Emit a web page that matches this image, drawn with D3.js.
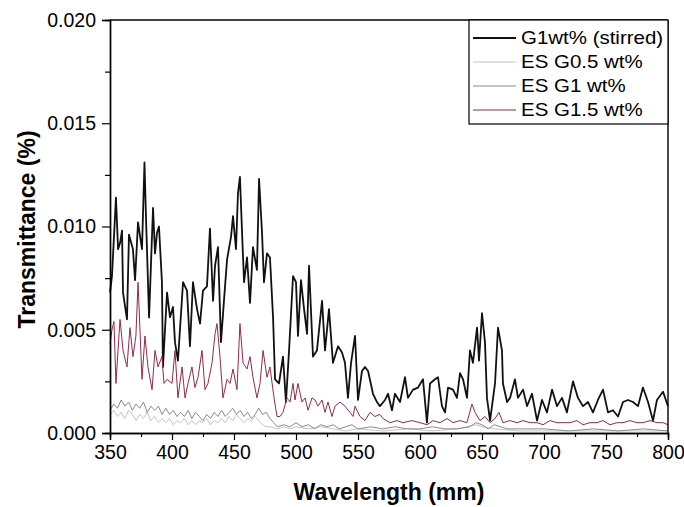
<!DOCTYPE html>
<html>
<head>
<meta charset="utf-8">
<script src="https://cdn.jsdelivr.net/npm/d3@7"></script>
<style>
  body { margin: 0; background: #fff; }
  text { font-family: Arial, "Liberation Sans", sans-serif; fill: #000; }
</style>
</head>
<body>
<svg id="chart" width="684" height="507"></svg>
<script>
// Spectra (wavelength in nm, transmittance)
var stirredNm = [350,351.6,354.8,356.5,358.1,359.7,360.5,363.7,365.3,368.5,370.2,372.6,375.8,377.8,379,381.5,384.7,386.3,387.9,389.5,391.9,392.7,396,398.4,400.8,402.4,404.8,408.9,412.1,414.5,416.9,420.2,422.6,425,428.2,430.6,433.1,434.7,437.1,439.5,441.9,444.4,447.6,449.2,451.6,453.2,454.8,456.5,458.1,460.5,462.9,465.3,468.5,470.2,472.6,474.2,476.6,479,481.5,483.1,486.3,489.5,491.9,494.4,497.6,500,501.6,504,506.5,508.9,510.5,513.7,516.9,521,523.4,526.6,529.8,533.9,537.1,539.5,541.9,544.4,547.6,550,553.2,555.6,558.1,562.1,565.3,567.7,571.8,574.2,577.4,579.8,583.9,587.9,590.3,594.4,598.4,602.4,605.6,608.1,612.1,614.5,617.7,620.2,622.6,626.6,629.8,632.3,634.7,637.9,640.3,642.7,646,647.6,650,652.4,654,656.5,660.5,662.9,666.1,666.9,670.2,672.6,676.6,679,683.1,686.3,690.3,694.4,698.4,702.4,706.5,710.5,714.5,718.5,723.4,727.4,731.5,735.5,739.5,743.5,747.6,751.6,755.6,759.7,763.7,767.7,771.8,775.8,779.8,783.9,787.9,791.1,796,800];
var stirredT = [0.0068,0.0076,0.0114,0.0089,0.0092,0.0098,0.0068,0.0055,0.0096,0.0089,0.0074,0.0102,0.0089,0.0131,0.0105,0.0056,0.0109,0.0087,0.0097,0.0100,0.0073,0.0032,0.0068,0.0056,0.0061,0.0044,0.0035,0.0073,0.0069,0.0042,0.0073,0.0060,0.0053,0.0069,0.0071,0.0099,0.0064,0.0081,0.0090,0.0044,0.0064,0.0084,0.0095,0.0105,0.0089,0.0116,0.0124,0.0097,0.0073,0.0085,0.0063,0.0090,0.0079,0.0123,0.0097,0.0073,0.0087,0.0085,0.0056,0.0026,0.0024,0.0037,0.0015,0.0040,0.0076,0.0073,0.0047,0.0074,0.0060,0.0048,0.0081,0.0037,0.0040,0.0064,0.0040,0.0060,0.0034,0.0042,0.0039,0.0034,0.0017,0.0034,0.0047,0.0016,0.0030,0.0032,0.0030,0.0019,0.0015,0.0013,0.0016,0.0019,0.0011,0.0019,0.0015,0.0027,0.0017,0.0021,0.0022,0.0026,0.0005,0.0024,0.0026,0.0027,0.0013,0.0010,0.0022,0.0021,0.0017,0.0029,0.0026,0.0017,0.0040,0.0034,0.0051,0.0035,0.0058,0.0044,0.0017,0.0006,0.0024,0.0051,0.0040,0.0024,0.0015,0.0017,0.0026,0.0017,0.0021,0.0013,0.0019,0.0006,0.0016,0.0010,0.0021,0.0013,0.0017,0.0010,0.0025,0.0017,0.0013,0.0015,0.0010,0.0016,0.0021,0.0010,0.0011,0.0008,0.0015,0.0016,0.0015,0.0013,0.0022,0.0015,0.0006,0.0016,0.0020,0.0013];

var g05Nm = [350,353,356,359,362,365,368,371,374,377,380,383,386,389,392,395,398,401,404,407,410,413,416,419,422,425,428,431,434,437,440,443,446,449,452,455,458,461,464,467,470,473,476,480,485,490,495,500,510,520,530,540,550,570,590,610,630,645,650,660,680,700,750,800];
var g05T = [0.0009,0.0011,0.0008,0.0010,0.0007,0.0011,0.0009,0.0006,0.0009,0.0007,0.0010,0.0006,0.0008,0.0005,0.0007,0.0005,0.0007,0.0004,0.0006,0.0005,0.0007,0.0004,0.0006,0.0004,0.0006,0.0005,0.0007,0.0004,0.0006,0.0005,0.0007,0.0005,0.0008,0.0006,0.0009,0.0007,0.0005,0.0007,0.0006,0.0008,0.0006,0.0004,0.0003,0.0003,0.0002,0.0003,0.0002,0.0003,0.0002,0.0003,0.0002,0.0001,0.0002,0.0001,0.0002,0.0001,0.0002,0.0004,0.0003,0.0002,0.0001,0.0001,0.0001,0.0001];

var g1Nm = [350,353,356,359,362,365,368,371,374,377,380,383,386,389,392,395,398,401,404,407,410,413,416,419,422,425,428,431,434,437,440,443,446,449,452,455,458,461,464,467,470,473,476,479,482,485,490,495,500,505,510,515,520,525,530,535,540,545,550,560,570,580,590,600,610,620,630,640,645,650,655,660,665,670,680,700,720,740,760,780,800];
var g1T = [0.0011,0.0014,0.0012,0.0016,0.0013,0.0015,0.0011,0.0014,0.0012,0.0015,0.0010,0.0013,0.0011,0.0013,0.0009,0.0012,0.0009,0.0011,0.0008,0.0010,0.0008,0.0011,0.0007,0.0010,0.0008,0.0006,0.0009,0.0007,0.0010,0.0008,0.0011,0.0008,0.0010,0.0012,0.0009,0.0011,0.0008,0.0010,0.0007,0.0009,0.0012,0.0009,0.0010,0.0007,0.0005,0.0003,0.0004,0.0003,0.0005,0.0003,0.0004,0.0002,0.0004,0.0003,0.0004,0.0002,0.0003,0.0004,0.0002,0.0003,0.0002,0.0003,0.0002,0.0002,0.0003,0.0002,0.0002,0.0003,0.0005,0.0004,0.0002,0.0004,0.0003,0.0002,0.0002,0.0002,0.0001,0.0002,0.0001,0.0002,0.0001];

var g15Nm = [350,351.6,353.2,354.8,357.3,358.1,360.5,363.7,366.1,368.5,370.9,372.6,375.8,378.2,380.6,383.9,386.3,388.7,391.9,393.5,396,400,402.4,404.8,408.1,410.5,412.9,416.1,418.5,421,424.2,426.6,429,432.3,434.7,436.3,438.7,441.1,444.4,446.8,449.2,452.4,454.8,457.3,460.5,462.9,465.3,468.5,471,473.4,476.6,479,482.3,484.7,487.1,489.5,492.7,495.2,497.6,499.2,501.6,504.8,507.3,509.7,512.9,515.3,517.7,521,523.4,525.8,529,531.5,535.5,539.5,543.5,546,547.6,551.6,555.6,559.7,563.7,567.7,570.2,575.8,581.5,586.3,593.5,600,605.6,610.5,616.1,621.8,626.6,632.3,637.9,641.9,644.4,648.4,652.4,656.5,660.5,663.7,666.9,672.6,678.2,683.1,688.7,694.4,699.2,704.8,710.5,715.3,721,726.6,731.5,737.1,742.7,747.6,753.2,758.9,763.7,769.4,775,779.8,785.5,791.1,796,800];
var g15T = [0.0043,0.0050,0.0054,0.0024,0.0048,0.0055,0.0040,0.0032,0.0051,0.0037,0.0047,0.0073,0.0026,0.0047,0.0032,0.0021,0.0040,0.0032,0.0037,0.0024,0.0026,0.0024,0.0040,0.0017,0.0032,0.0017,0.0024,0.0032,0.0022,0.0027,0.0040,0.0021,0.0024,0.0034,0.0048,0.0053,0.0037,0.0017,0.0026,0.0024,0.0031,0.0021,0.0053,0.0034,0.0031,0.0037,0.0027,0.0017,0.0024,0.0040,0.0027,0.0032,0.0017,0.0008,0.0008,0.0010,0.0017,0.0015,0.0024,0.0016,0.0024,0.0015,0.0017,0.0011,0.0017,0.0016,0.0013,0.0016,0.0010,0.0015,0.0008,0.0013,0.0015,0.0013,0.0010,0.0008,0.0013,0.0008,0.0006,0.0010,0.0008,0.0009,0.0007,0.0005,0.0006,0.0005,0.0006,0.0005,0.0004,0.0006,0.0005,0.0007,0.0005,0.0006,0.0005,0.0014,0.0010,0.0006,0.0008,0.0005,0.0007,0.0010,0.0005,0.0006,0.0005,0.0006,0.0005,0.0005,0.0004,0.0006,0.0005,0.0005,0.0005,0.0006,0.0004,0.0005,0.0005,0.0006,0.0004,0.0005,0.0005,0.0006,0.0005,0.0005,0.0006,0.0005,0.0005,0.0004];

var seriesNames = ["G1wt% (stirred)", "ES G0.5 wt%", "ES G1 wt%", "ES G1.5 wt%"];
var seriesColors = ["#111111", "#c4c4c4", "#8a8a8a", "#8e2d4c"];
var seriesWidths = [1.8, 1, 1, 1];

var xMajor = [350, 400, 450, 500, 550, 600, 650, 700, 750, 800];
var xMinor = [375, 425, 475, 525, 575, 625, 675, 725, 775];
var yMajor = [0, 0.005, 0.010, 0.015, 0.020];
var yMinor = [0.0025, 0.0075, 0.0125, 0.0175];

var margin = { left: 110, right: 16, top: 20, bottom: 74 };
var width = 684 - margin.left - margin.right;
var height = 507 - margin.top - margin.bottom;

var svg = d3.select("#chart");
var g = svg.append("g").attr("transform", `translate(${margin.left},${margin.top})`);

var x = d3.scaleLinear().domain([350, 800]).range([0, width]);
var y = d3.scaleLinear().domain([0, 0.020]).range([height, 0]);

// zip each nm array with its values
function pairs(nm, vals) {
  return nm.map((d, i) => [d, vals[i]]);
}
var allSeries = [
  pairs(stirredNm, stirredT),
  pairs(g05Nm, g05T),
  pairs(g1Nm, g1T),
  pairs(g15Nm, g15T),
];

var line = d3.line()
  .x((d) => x(d[0]))
  .y((d) => y(d[1]));

var plot = g.append("g");
allSeries.forEach((s, i) => {
  plot.append("path")
    .datum(s)
    .attr("fill", "none")
    .attr("stroke", seriesColors[i])
    .attr("stroke-width", seriesWidths[i])
    .attr("stroke-linejoin", "round")
    .attr("d", line);
});

// Axes
function styleAxis(sel) {
  sel.select(".domain").attr("stroke", "#000").attr("stroke-width", 1.4);
  sel.selectAll(".tick line").attr("stroke", "#000").attr("stroke-width", 1.2);
  sel.selectAll("text").style("font-size", "19.5px").attr("fill", "#000")
    .style("font-family", "Arial, 'Liberation Sans', sans-serif");
}

g.append("g")
  .attr("transform", `translate(0,${height})`)
  .call(d3.axisBottom(x).tickValues(xMinor).tickSize(4).tickFormat(""))
  .call(styleAxis);
g.append("g")
  .attr("transform", `translate(0,${height})`)
  .call(d3.axisBottom(x).tickValues(xMajor).tickSize(7).tickPadding(5).tickFormat(d3.format("d")))
  .call(styleAxis);

g.append("g")
  .call(d3.axisLeft(y).tickValues(yMinor).tickSize(5).tickFormat(""))
  .call(styleAxis);
g.append("g")
  .call(d3.axisLeft(y).tickValues(yMajor).tickSize(8).tickPadding(6).tickFormat(d3.format(".3f")))
  .call(styleAxis);

// top and right frame
g.append("line").attr("x1", 0).attr("x2", width).attr("y1", 0).attr("y2", 0)
  .attr("stroke", "#000").attr("stroke-width", 1.4);
g.append("line").attr("x1", width).attr("x2", width).attr("y1", 0).attr("y2", height)
  .attr("stroke", "#000").attr("stroke-width", 1.4);

// Axis titles
svg.append("text")
  .attr("x", margin.left + width / 2)
  .attr("y", 500)
  .attr("text-anchor", "middle")
  .style("font-size", "23px")
  .style("font-weight", "bold")
  .text("Wavelength (mm)");

svg.append("text")
  .attr("transform", `translate(35,${margin.top + height / 2 + 3}) rotate(-90)`)
  .attr("text-anchor", "middle")
  .style("font-size", "23px")
  .style("font-weight", "bold")
  .text("Transmittance (%)");

// Legend
var legendX = 469;
var legend = svg.append("g");
legend.append("rect")
  .attr("x", legendX)
  .attr("y", margin.top)
  .attr("width", margin.left + width - legendX)
  .attr("height", 104)
  .attr("fill", "#fff")
  .attr("stroke", "#000")
  .attr("stroke-width", 1.2);

seriesNames.forEach((name, i) => {
  var ly = 38 + i * 24;
  legend.append("line")
    .attr("x1", legendX + 4).attr("x2", legendX + 47)
    .attr("y1", ly).attr("y2", ly)
    .attr("stroke", seriesColors[i])
    .attr("stroke-width", seriesWidths[i]);
  // reference text is drawn slightly wide
  legend.append("text")
    .attr("transform", `translate(${legendX + 52},${ly + 6}) scale(1.17,1)`)
    .style("font-size", "17.5px")
    .text(name);
});
</script>
</body>
</html>
